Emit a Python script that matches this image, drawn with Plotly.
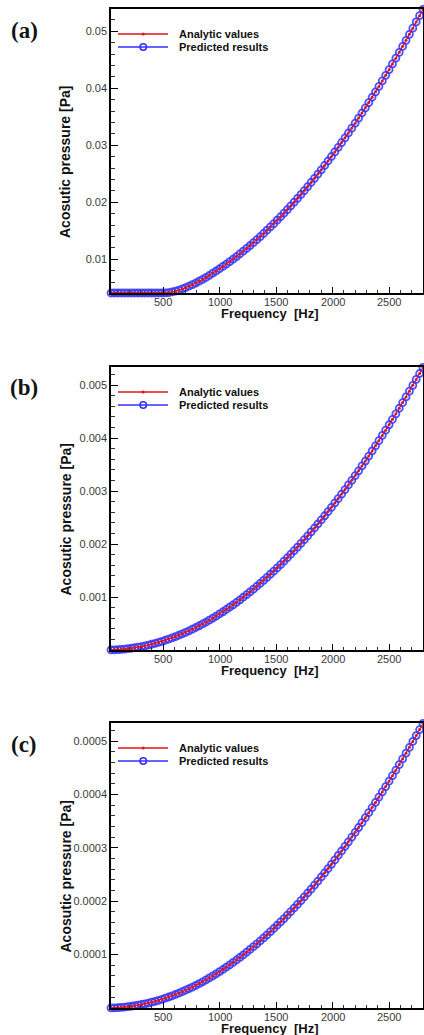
import plotly.graph_objects as go

W, H = 424, 1035

# ---------------- data ----------------
freq = [40, 70, 100, 130, 160, 190, 220, 250, 280, 310,
        340, 370, 400, 430, 460, 490, 520, 550, 580, 610,
        640, 670, 700, 730, 760, 790, 820, 850, 880, 910,
        940, 970, 1000, 1030, 1060, 1090, 1120, 1150, 1180, 1210,
        1240, 1270, 1300, 1330, 1360, 1390, 1420, 1450, 1480, 1510,
        1540, 1570, 1600, 1630, 1660, 1690, 1720, 1750, 1780, 1810,
        1840, 1870, 1900, 1930, 1960, 1990, 2020, 2050, 2080, 2110,
        2140, 2170, 2200, 2230, 2260, 2290, 2320, 2350, 2380, 2410,
        2440, 2470, 2500, 2530, 2560, 2590, 2620, 2650, 2680, 2710,
        2740, 2770, 2800]

analytic_a = [0.0041] * 16 + [
    0.00412, 0.00418, 0.00428,
    0.00442, 0.00460, 0.00482, 0.00505, 0.00530, 0.00556,
    0.00585, 0.006171, 0.006505, 0.00685, 0.007207,
    0.007576, 0.007957, 0.00835, 0.008755, 0.009172,
    0.009601, 0.010042, 0.010495, 0.010959, 0.011436,
    0.011925, 0.012426, 0.012939, 0.013463, 0.014,
    0.014548, 0.015109, 0.015682, 0.016266, 0.016863,
    0.017471, 0.018092, 0.018724, 0.019368, 0.020025,
    0.020693, 0.021373, 0.022066, 0.02277, 0.023486,
    0.024214, 0.024954, 0.025707, 0.026471, 0.027247,
    0.028035, 0.028835, 0.029647, 0.030471, 0.031306,
    0.032154, 0.033014, 0.033886, 0.03477, 0.035666,
    0.036573, 0.037493, 0.038425, 0.039368, 0.040324,
    0.041291, 0.042271, 0.043263, 0.044266, 0.045281,
    0.046309, 0.047348, 0.0484, 0.049463, 0.050538,
    0.051626, 0.052725, 0.053836]
predicted_a = list(analytic_a)

analytic_b = [
    1.09e-6, 3.33e-6, 6.80e-6, 1.149e-5, 1.741e-5, 2.455e-5, 3.291e-5, 4.250e-5, 5.331e-5, 6.535e-5,
    7.861e-5, 9.309e-5, 1.088e-4, 1.257e-4, 1.439e-4, 1.633e-4, 1.839e-4, 2.057e-4, 2.288e-4, 2.530e-4,
    2.785e-4, 3.053e-4, 3.332e-4, 3.624e-4, 3.928e-4, 4.244e-4, 4.572e-4, 4.913e-4, 5.266e-4, 5.631e-4,
    6.008e-4, 6.398e-4, 6.800e-4, 7.214e-4, 7.640e-4, 8.079e-4, 8.530e-4, 8.993e-4, 9.468e-4, 9.956e-4,
    1.0456e-3, 1.0968e-3, 1.1492e-3, 1.2029e-3, 1.2577e-3, 1.3138e-3, 1.3712e-3, 1.4297e-3, 1.4895e-3, 1.5505e-3,
    1.6127e-3, 1.6761e-3, 1.7408e-3, 1.8067e-3, 1.8738e-3, 1.9421e-3, 2.0117e-3, 2.0825e-3, 2.1545e-3, 2.2277e-3,
    2.3022e-3, 2.3779e-3, 2.4548e-3, 2.5329e-3, 2.6123e-3, 2.6929e-3, 2.7747e-3, 2.8577e-3, 2.9420e-3, 3.0274e-3,
    3.1141e-3, 3.2021e-3, 3.2912e-3, 3.3816e-3, 3.4732e-3, 3.5660e-3, 3.6600e-3, 3.7553e-3, 3.8518e-3, 3.9495e-3,
    4.0484e-3, 4.1486e-3, 4.2500e-3, 4.3526e-3, 4.4564e-3, 4.5615e-3, 4.6678e-3, 4.7753e-3, 4.8840e-3, 4.9940e-3,
    5.1052e-3, 5.2176e-3, 5.3312e-3]
predicted_b = list(analytic_b)

analytic_c = [
    1.09e-7, 3.33e-7, 6.80e-7, 1.149e-6, 1.741e-6, 2.455e-6, 3.291e-6, 4.250e-6, 5.331e-6, 6.535e-6,
    7.861e-6, 9.309e-6, 1.088e-5, 1.257e-5, 1.439e-5, 1.633e-5, 1.839e-5, 2.057e-5, 2.288e-5, 2.530e-5,
    2.785e-5, 3.053e-5, 3.332e-5, 3.624e-5, 3.928e-5, 4.244e-5, 4.572e-5, 4.913e-5, 5.266e-5, 5.631e-5,
    6.008e-5, 6.398e-5, 6.800e-5, 7.214e-5, 7.640e-5, 8.079e-5, 8.530e-5, 8.993e-5, 9.468e-5, 9.956e-5,
    1.0456e-4, 1.0968e-4, 1.1492e-4, 1.2029e-4, 1.2577e-4, 1.3138e-4, 1.3712e-4, 1.4297e-4, 1.4895e-4, 1.5505e-4,
    1.6127e-4, 1.6761e-4, 1.7408e-4, 1.8067e-4, 1.8738e-4, 1.9421e-4, 2.0117e-4, 2.0825e-4, 2.1545e-4, 2.2277e-4,
    2.3022e-4, 2.3779e-4, 2.4548e-4, 2.5329e-4, 2.6123e-4, 2.6929e-4, 2.7747e-4, 2.8577e-4, 2.9420e-4, 3.0274e-4,
    3.1141e-4, 3.2021e-4, 3.2912e-4, 3.3816e-4, 3.4732e-4, 3.5660e-4, 3.6600e-4, 3.7553e-4, 3.8518e-4, 3.9495e-4,
    4.0484e-4, 4.1486e-4, 4.2500e-4, 4.3526e-4, 4.4564e-4, 4.5615e-4, 4.6678e-4, 4.7753e-4, 4.8840e-4, 4.9940e-4,
    5.1052e-4, 5.2176e-4, 5.3312e-4]
predicted_c = list(analytic_c)

x_tickvals = [500, 1000, 1500, 2000, 2500]
x_ticktext = ["500", "1000", "1500", "2000", "2500"]
a_tickvals = [0.01, 0.02, 0.03, 0.04, 0.05]
a_ticktext = ["0.01", "0.02", "0.03", "0.04", "0.05"]
b_tickvals = [0.001, 0.002, 0.003, 0.004, 0.005]
b_ticktext = ["0.001", "0.002", "0.003", "0.004", "0.005"]
c_tickvals = [0.0001, 0.0002, 0.0003, 0.0004, 0.0005]
c_ticktext = ["0.0001", "0.0002", "0.0003", "0.0004", "0.0005"]

panel_labels = ["(a)", "(b)", "(c)"]
series_names = ["Analytic values", "Predicted results"]
x_title = "Frequency\u00a0 [Hz]"
y_title = "Acosutic pressure [Pa]"

# ---------------- layout helpers ----------------
PL, PR = 111, 423
panels = [
    dict(top=9, bot=293, rng=[0.0041, 0.0539], tv=a_tickvals, tt=a_ticktext, minor=0.002,
         an=analytic_a, pr=predicted_a),
    dict(top=367, bot=650, rng=[0.0, 0.00534], tv=b_tickvals, tt=b_ticktext, minor=0.0002,
         an=analytic_b, pr=predicted_b),
    dict(top=723, bot=1008, rng=[0.0, 0.000534], tv=c_tickvals, tt=c_ticktext, minor=0.00002,
         an=analytic_c, pr=predicted_c),
]


def px(x):
    return x / W


def py(y):
    return 1 - y / H


TICK_COLOR = "#3a3a3a"
tickfont = dict(family="Liberation Sans, Arial", size=11, color=TICK_COLOR)
shapes = []
annotations = []
layout_axes = {}

fig = go.Figure()
for i, p in enumerate(panels):
    n = "" if i == 0 else str(i + 1)
    xa, ya = "x" + n, "y" + n
    layout_axes["xaxis" + n] = dict(
        domain=[px(PL), px(PR)], anchor=ya, range=[40, 2800],
        tickmode="array", tickvals=x_tickvals, showticklabels=False,
        ticks="inside", ticklen=6, tickwidth=1.3, tickcolor="black",
        showline=True, linecolor="black", linewidth=1.5, mirror=True,
        showgrid=False, zeroline=False, automargin=False,
        minor=dict(dtick=100, tick0=0, ticks="inside", ticklen=3, tickwidth=1,
                   tickcolor="#333", showgrid=False),
    )
    layout_axes["yaxis" + n] = dict(
        domain=[py(p["bot"]), py(p["top"])], anchor=xa, range=p["rng"],
        tickmode="array", tickvals=p["tv"], ticktext=p["tt"],
        ticks="inside", ticklen=7, tickwidth=1.3, tickcolor="black",
        showline=True, linecolor="black", linewidth=1.5, mirror=True,
        showgrid=False, zeroline=False, tickfont=tickfont, automargin=False,
        minor=dict(dtick=p["minor"], tick0=0, ticks="inside", ticklen=4, tickwidth=1,
                   tickcolor="#333", showgrid=False),
    )

    fig.add_trace(go.Scatter(
        x=freq, y=p["pr"], xaxis=xa, yaxis=ya, name=series_names[1],
        mode="lines+markers", cliponaxis=False, showlegend=False,
        line=dict(color="#3030ff", width=1),
        marker=dict(symbol="circle-open", size=7, color="rgba(50,50,255,0.85)",
                    line=dict(width=1.8)),
    ))
    fig.add_trace(go.Scatter(
        x=freq, y=p["an"], xaxis=xa, yaxis=ya, name=series_names[0],
        mode="lines+markers", cliponaxis=False, showlegend=False,
        line=dict(color="#e0141c", width=1),
        marker=dict(symbol="circle", size=3, color="#e0141c"),
    ))

    top, bot = p["top"], p["bot"]
    # x tick labels (placed just under the axis line)
    for v, t in zip(x_tickvals, x_ticktext):
        annotations.append(dict(text=t, x=v, xref=xa, y=py(bot + 8.5), yref="paper",
                                xanchor="center", yanchor="middle", showarrow=False,
                                font=tickfont))
    # custom legend
    r1, r2 = top + 25, top + 38
    shapes.append(dict(type="line", xref="paper", yref="paper", x0=px(118), x1=px(168),
                       y0=py(r1), y1=py(r1), line=dict(color="#e0141c", width=1.5)))
    shapes.append(dict(type="circle", xref="paper", yref="paper", x0=px(141.7), x1=px(144.7),
                       y0=py(r1 + 1.5), y1=py(r1 - 1.5), fillcolor="#e0141c", line=dict(width=0)))
    shapes.append(dict(type="line", xref="paper", yref="paper", x0=px(118), x1=px(168),
                       y0=py(r2), y1=py(r2), line=dict(color="#3030ff", width=1.5)))
    shapes.append(dict(type="circle", xref="paper", yref="paper", x0=px(140), x1=px(146.5),
                       y0=py(r2 + 3.2), y1=py(r2 - 3.2), line=dict(color="#3030ff", width=1.5)))
    for txt, yy in zip(series_names, [r1, r2]):
        annotations.append(dict(text=txt, x=px(177), y=py(yy), xref="paper", yref="paper",
                                xanchor="left", yanchor="middle", showarrow=False,
                                font=dict(family="Liberation Sans, Arial", size=11,
                                          color="#111111", weight="bold")))
    # panel label
    annotations.append(dict(text=panel_labels[i], x=px(24), y=py(top + 21), xref="paper",
                            yref="paper", xanchor="center", yanchor="middle", showarrow=False,
                            font=dict(family="Liberation Serif, Times New Roman", size=23,
                                      color="#141414", weight="bold")))
    # axis titles
    annotations.append(dict(text=x_title, x=px(270), y=py(bot + 20.5), xref="paper",
                            yref="paper", xanchor="center", yanchor="middle", showarrow=False,
                            font=dict(family="Liberation Sans, Arial", size=13, color="#111111",
                                      weight="bold")))
    annotations.append(dict(text=y_title, x=px(65), y=py((top + bot) / 2 + 11), xref="paper",
                            yref="paper", xanchor="center", yanchor="middle", showarrow=False,
                            textangle=-90,
                            font=dict(family="Liberation Sans, Arial", size=14, color="#111111",
                                      weight="bold")))

fig.update_layout(
    width=W, height=H, margin=dict(l=0, r=0, t=0, b=0),
    paper_bgcolor="white", plot_bgcolor="white", showlegend=False,
    shapes=shapes, annotations=annotations, **layout_axes,
)

fig.write_html(
    "out.html",
    config={"displayModeBar": False},
    post_script="document.body.style.margin='0';document.body.style.overflow='hidden';",
)
